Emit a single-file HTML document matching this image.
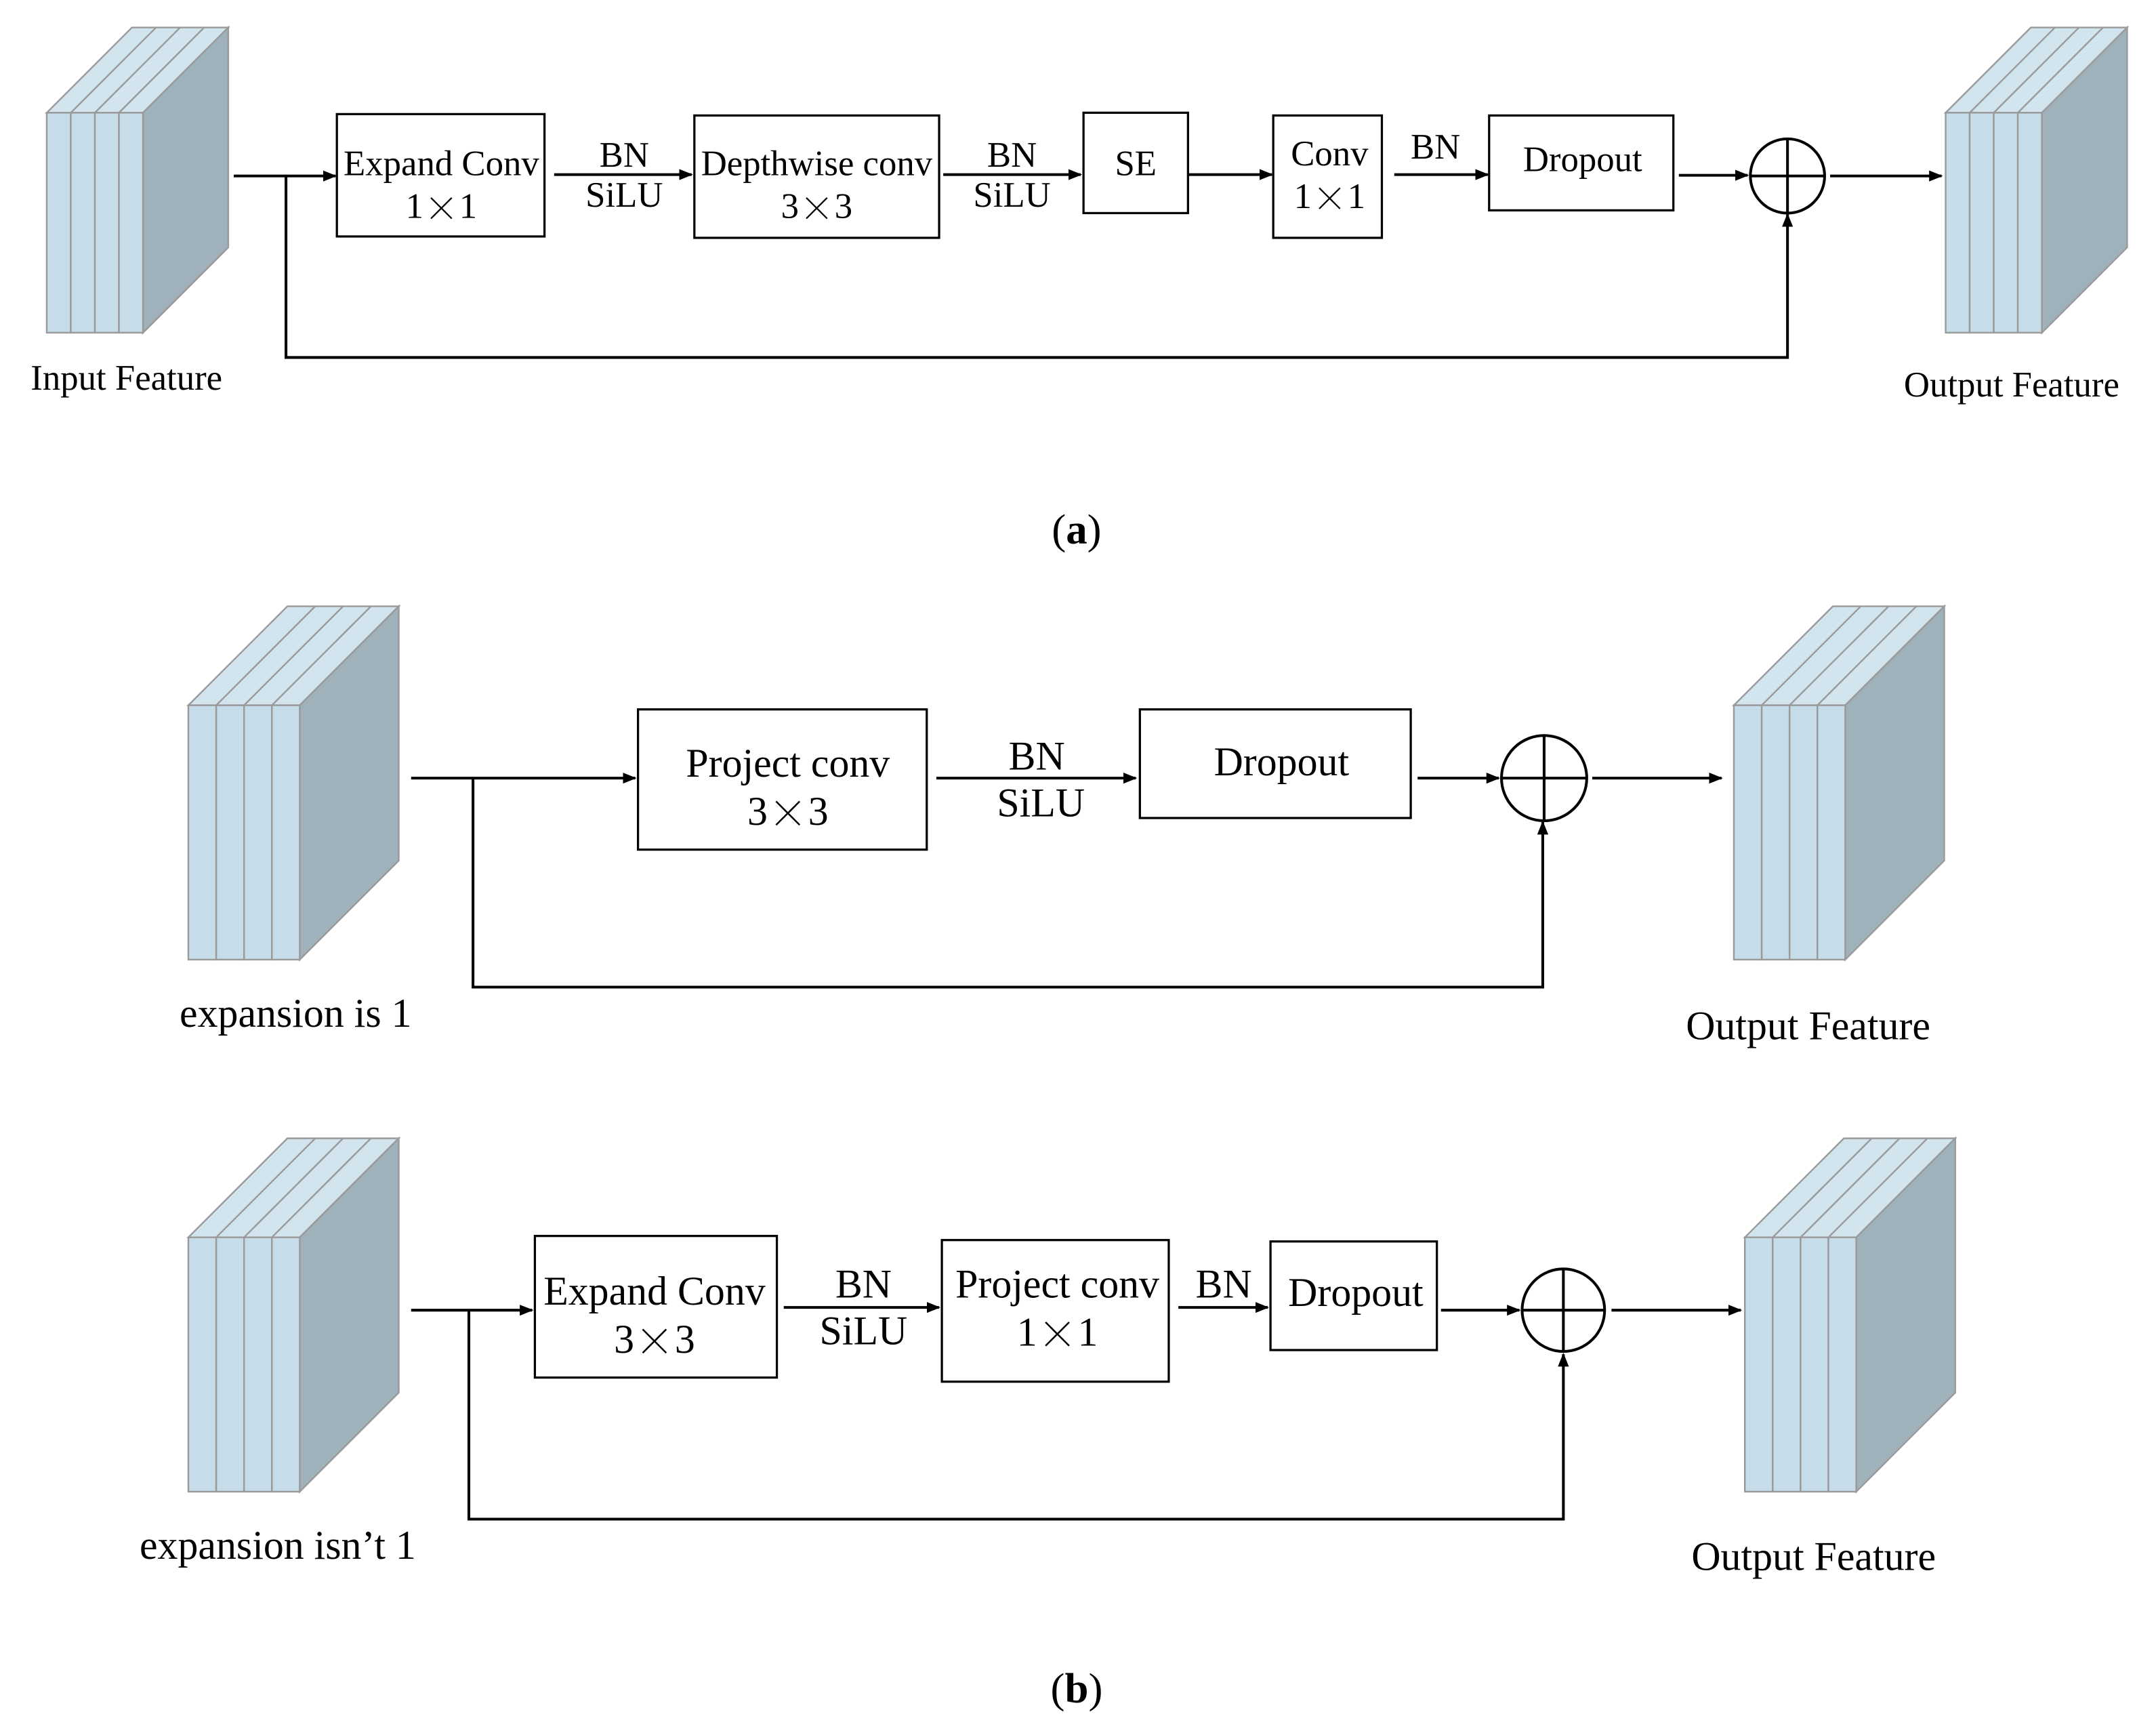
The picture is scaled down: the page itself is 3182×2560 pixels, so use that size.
<!DOCTYPE html>
<html><head><meta charset="utf-8"><style>
html,body{margin:0;padding:0;background:#fff;}
svg{display:block;}
text{font-family:"Liberation Serif",serif;fill:#000;text-anchor:middle;dominant-baseline:central;}
.x{font-family:"Noto Serif CJK SC","Liberation Serif",serif;font-weight:300;}
.ln{stroke:#000;stroke-width:2;fill:none;}
.bx{stroke:#000;stroke-width:1.6;fill:#fff;}
.fr{fill:#c6dde9;stroke:#9a9a9a;stroke-width:1.2;}
.tp{fill:#d2e5ee;stroke:#9a9a9a;stroke-width:1.2;}
.sd{fill:#9fb1ba;stroke:#9a9a9a;stroke-width:1.2;}
</style></head><body>
<svg width="3182" height="2560" viewBox="0 0 1568 1262" preserveAspectRatio="none" xmlns="http://www.w3.org/2000/svg">
<defs><marker id="ar" markerWidth="10" markerHeight="8" refX="9" refY="4" orient="auto" markerUnits="userSpaceOnUse"><path d="M0,0 L10,4 L0,8 Z" fill="#000"/></marker></defs>

<g>
<polygon class="tp" points="34,82 96,20 166,20 104,82"/>
<line class="tp" x1="51.5" y1="82" x2="113.5" y2="20"/><line class="tp" x1="69" y1="82" x2="131" y2="20"/><line class="tp" x1="86.5" y1="82" x2="148.5" y2="20"/>
<polygon class="sd" points="104,82 166,20 166,180 104,242"/>
<rect class="fr" x="34" y="82" width="17.5" height="160"/><rect class="fr" x="51.5" y="82" width="17.5" height="160"/><rect class="fr" x="69" y="82" width="17.5" height="160"/><rect class="fr" x="86.5" y="82" width="17.5" height="160"/>
</g>
<g>
<polygon class="tp" points="1415,82 1477,20 1547,20 1485,82"/>
<line class="tp" x1="1432.5" y1="82" x2="1494.5" y2="20"/><line class="tp" x1="1450" y1="82" x2="1512" y2="20"/><line class="tp" x1="1467.5" y1="82" x2="1529.5" y2="20"/>
<polygon class="sd" points="1485,82 1547,20 1547,180 1485,242"/>
<rect class="fr" x="1415" y="82" width="17.5" height="160"/><rect class="fr" x="1432.5" y="82" width="17.5" height="160"/><rect class="fr" x="1450" y="82" width="17.5" height="160"/><rect class="fr" x="1467.5" y="82" width="17.5" height="160"/>
</g>

<line class="ln" x1="170" y1="128" x2="244" y2="128" marker-end="url(#ar)"/>
<polyline class="ln" points="208,128 208,260 1300,260 1300,156" marker-end="url(#ar)"/>
<rect class="bx" x="245" y="83" width="151" height="89"/>
<text x="321" y="119" font-size="26">Expand Conv</text><text x="321" y="150" font-size="26">1<tspan class="x">×</tspan>1</text>
<line class="ln" x1="403" y1="127" x2="503" y2="127" marker-end="url(#ar)"/>
<text x="454" y="113" font-size="26">BN</text><text x="454" y="142" font-size="26">SiLU</text>
<rect class="bx" x="505" y="84" width="178" height="89"/>
<text x="594" y="119" font-size="26">Depthwise conv</text><text x="594" y="150" font-size="26">3<tspan class="x">×</tspan>3</text>
<line class="ln" x1="686" y1="127" x2="786" y2="127" marker-end="url(#ar)"/>
<text x="736" y="113" font-size="26">BN</text><text x="736" y="142" font-size="26">SiLU</text>
<rect class="bx" x="788" y="82" width="76" height="73"/>
<text x="826" y="119" font-size="26">SE</text>
<line class="ln" x1="864" y1="127" x2="925" y2="127" marker-end="url(#ar)"/>
<rect class="bx" x="926" y="84" width="79" height="89"/>
<text x="967" y="112" font-size="26">Conv</text><text x="967" y="143" font-size="26">1<tspan class="x">×</tspan>1</text>
<line class="ln" x1="1014" y1="127" x2="1082" y2="127" marker-end="url(#ar)"/>
<text x="1044" y="107" font-size="26">BN</text>
<rect class="bx" x="1083" y="84" width="134" height="69"/>
<text x="1151" y="116" font-size="26">Dropout</text>
<line class="ln" x1="1221" y1="127.5" x2="1271" y2="127.5" marker-end="url(#ar)"/>
<circle class="ln" cx="1300" cy="128" r="27"/>
<line class="ln" x1="1273" y1="128" x2="1327" y2="128"/><line class="ln" x1="1300" y1="101" x2="1300" y2="155"/>
<line class="ln" x1="1331" y1="128" x2="1412" y2="128" marker-end="url(#ar)"/>
<text x="92" y="275" font-size="26">Input Feature</text>
<text x="1463" y="280" font-size="26">Output Feature</text>
<text x="783" y="385" font-size="31">(<tspan font-weight="bold">a</tspan>)</text>

<g>
<polygon class="tp" points="137,513 209,441 290,441 218,513"/>
<line class="tp" x1="157.25" y1="513" x2="229.25" y2="441"/><line class="tp" x1="177.5" y1="513" x2="249.5" y2="441"/><line class="tp" x1="197.75" y1="513" x2="269.75" y2="441"/>
<polygon class="sd" points="218,513 290,441 290,626 218,698"/>
<rect class="fr" x="137" y="513" width="20.25" height="185"/><rect class="fr" x="157.25" y="513" width="20.25" height="185"/><rect class="fr" x="177.5" y="513" width="20.25" height="185"/><rect class="fr" x="197.75" y="513" width="20.25" height="185"/>
</g>
<g>
<polygon class="tp" points="1261,513 1333,441 1414,441 1342,513"/>
<line class="tp" x1="1281.25" y1="513" x2="1353.25" y2="441"/><line class="tp" x1="1301.5" y1="513" x2="1373.5" y2="441"/><line class="tp" x1="1321.75" y1="513" x2="1393.75" y2="441"/>
<polygon class="sd" points="1342,513 1414,441 1414,626 1342,698"/>
<rect class="fr" x="1261" y="513" width="20.25" height="185"/><rect class="fr" x="1281.25" y="513" width="20.25" height="185"/><rect class="fr" x="1301.5" y="513" width="20.25" height="185"/><rect class="fr" x="1321.75" y="513" width="20.25" height="185"/>
</g>
<line class="ln" x1="299" y1="566" x2="462" y2="566" marker-end="url(#ar)"/>
<polyline class="ln" points="344,566 344,718 1122,718 1122,598" marker-end="url(#ar)"/>
<rect class="bx" x="464" y="516" width="210" height="102"/>
<text x="573" y="555" font-size="29.5">Project conv</text><text x="573" y="590" font-size="29.5">3<tspan class="x">×</tspan>3</text>
<line class="ln" x1="681" y1="566" x2="826" y2="566" marker-end="url(#ar)"/>
<text x="754" y="550" font-size="29.5">BN</text><text x="757" y="584" font-size="29.5">SiLU</text>
<rect class="bx" x="829" y="516" width="197" height="79"/>
<text x="932" y="554" font-size="29.5">Dropout</text>
<line class="ln" x1="1031" y1="566" x2="1090" y2="566" marker-end="url(#ar)"/>
<circle class="ln" cx="1123" cy="566" r="31"/>
<line class="ln" x1="1092" y1="566" x2="1154" y2="566"/><line class="ln" x1="1123" y1="535" x2="1123" y2="597"/>
<line class="ln" x1="1158" y1="566" x2="1252" y2="566" marker-end="url(#ar)"/>
<text x="215" y="737" font-size="29.5">expansion is 1</text>
<text x="1315" y="746" font-size="29.5">Output Feature</text>

<g>
<polygon class="tp" points="137,900 209,828 290,828 218,900"/>
<line class="tp" x1="157.25" y1="900" x2="229.25" y2="828"/><line class="tp" x1="177.5" y1="900" x2="249.5" y2="828"/><line class="tp" x1="197.75" y1="900" x2="269.75" y2="828"/>
<polygon class="sd" points="218,900 290,828 290,1013 218,1085"/>
<rect class="fr" x="137" y="900" width="20.25" height="185"/><rect class="fr" x="157.25" y="900" width="20.25" height="185"/><rect class="fr" x="177.5" y="900" width="20.25" height="185"/><rect class="fr" x="197.75" y="900" width="20.25" height="185"/>
</g>
<g>
<polygon class="tp" points="1269,900 1341,828 1422,828 1350,900"/>
<line class="tp" x1="1289.25" y1="900" x2="1361.25" y2="828"/><line class="tp" x1="1309.5" y1="900" x2="1381.5" y2="828"/><line class="tp" x1="1329.75" y1="900" x2="1401.75" y2="828"/>
<polygon class="sd" points="1350,900 1422,828 1422,1013 1350,1085"/>
<rect class="fr" x="1269" y="900" width="20.25" height="185"/><rect class="fr" x="1289.25" y="900" width="20.25" height="185"/><rect class="fr" x="1309.5" y="900" width="20.25" height="185"/><rect class="fr" x="1329.75" y="900" width="20.25" height="185"/>
</g>
<line class="ln" x1="299" y1="953" x2="387" y2="953" marker-end="url(#ar)"/>
<polyline class="ln" points="341,953 341,1105 1137,1105 1137,985" marker-end="url(#ar)"/>
<rect class="bx" x="389" y="899" width="176" height="103"/>
<text x="476" y="939" font-size="29.5">Expand Conv</text><text x="476" y="974" font-size="29.5">3<tspan class="x">×</tspan>3</text>
<line class="ln" x1="570" y1="951" x2="683" y2="951" marker-end="url(#ar)"/>
<text x="628" y="934" font-size="29.5">BN</text><text x="628" y="968" font-size="29.5">SiLU</text>
<rect class="bx" x="685" y="902" width="165" height="103"/>
<text x="769" y="934" font-size="29.5">Project conv</text><text x="769" y="969" font-size="29.5">1<tspan class="x">×</tspan>1</text>
<line class="ln" x1="857" y1="951" x2="922" y2="951" marker-end="url(#ar)"/>
<text x="890" y="934" font-size="29.5">BN</text>
<rect class="bx" x="924" y="903" width="121" height="79"/>
<text x="986" y="940" font-size="29.5">Dropout</text>
<line class="ln" x1="1048" y1="953" x2="1105" y2="953" marker-end="url(#ar)"/>
<circle class="ln" cx="1137" cy="953" r="30"/>
<line class="ln" x1="1107" y1="953" x2="1167" y2="953"/><line class="ln" x1="1137" y1="923" x2="1137" y2="983"/>
<line class="ln" x1="1172" y1="953" x2="1266" y2="953" marker-end="url(#ar)"/>
<text x="202" y="1124" font-size="29.5">expansion isn’t 1</text>
<text x="1319" y="1132" font-size="29.5">Output Feature</text>
<text x="783" y="1228" font-size="31">(<tspan font-weight="bold">b</tspan>)</text>
</svg>
</body></html>
